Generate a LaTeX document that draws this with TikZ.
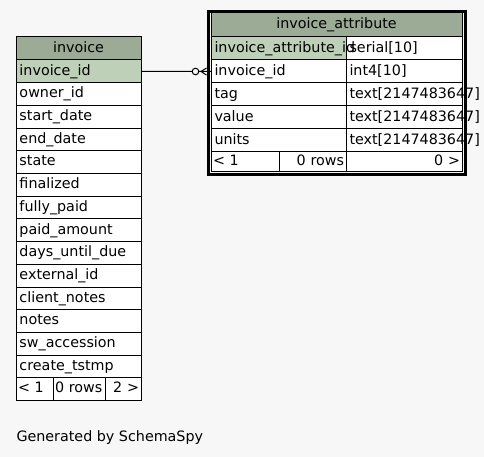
\documentclass[tikz,border=0pt]{standalone}
\usepackage{fontspec}
\setmainfont{DejaVu Sans}
\usepackage{tikz}
\usetikzlibrary{positioning}
\definecolor{headgreen}{HTML}{9BAB96}
\definecolor{keygreen}{HTML}{BED1B8}
\definecolor{canvas}{HTML}{F7F7F7}
\hyphenpenalty=10000
\exhyphenpenalty=10000

\begin{document}
\begin{tikzpicture}[x=1pt, y=-1pt, every node/.style={draw, line width=1pt, outer sep=0pt, anchor=north west, inner xsep=3.5pt, inner ysep=0pt, text height=11pt, text depth=3.5pt, align=left, font={\fontsize{14.3}{17}\selectfont}}, head/.style={fill=headgreen, align=center}, key/.style={fill=keygreen}, plain/.style={fill=white}, foot/.style={fill=white, inner xsep=2pt}, inv/.style={text width=118pt, minimum height=22.7pt}, aname/.style={text width=128pt, minimum height=23pt}, atype/.style={text width=109pt, minimum height=23pt}]
  \fill[canvas] (0,0) rectangle (484,457);

  % invoice
  \node[head, inv, minimum height=23pt] (inv-head) at (16,37) {invoice};
  \node[key, inv, below=0pt of inv-head] (inv-id) {invoice\_id};
  \node[plain, inv, below=0pt of inv-id] (inv2) {owner\_id};
  \node[plain, inv, below=0pt of inv2] (inv3) {start\_date};
  \node[plain, inv, below=0pt of inv3] (inv4) {end\_date};
  \node[plain, inv, below=0pt of inv4] (inv5) {state};
  \node[plain, inv, below=0pt of inv5] (inv6) {finalized};
  \node[plain, inv, below=0pt of inv6] (inv7) {fully\_paid};
  \node[plain, inv, below=0pt of inv7] (inv8) {paid\_amount};
  \node[plain, inv, below=0pt of inv8] (inv9) {days\_until\_due};
  \node[plain, inv, below=0pt of inv9] (inv10) {external\_id};
  \node[plain, inv, below=0pt of inv10] (inv11) {client\_notes};
  \node[plain, inv, below=0pt of inv11] (inv12) {notes};
  \node[plain, inv, below=0pt of inv12] (inv13) {sw\_accession};
  \node[plain, inv, below=0pt of inv13] (inv14) {create\_tstmp};
  \node[foot, text width=33pt, minimum height=22.7pt] (inv-f1) at (inv14.south west) {< 1};
  \node[foot, text width=48pt, minimum height=22.7pt, right=0pt of inv-f1] (inv-f2) {0 rows};
  \node[foot, text width=32pt, minimum height=22.7pt, align=right, right=0pt of inv-f2] (inv-f3) {2 >};

  % invoice_attribute
  \node[head, text width=244pt, minimum height=24pt] (attr-head) at (211,13) {invoice\_attribute};
  \node[plain, atype, anchor=north east] (attr-t1) at (attr-head.south east) {serial[10]};
  \node[plain, atype, below=0pt of attr-t1] (attr-t2) {int4[10]};
  \node[plain, atype, below=0pt of attr-t2] (attr-t3) {text[2147483647]};
  \node[plain, atype, below=0pt of attr-t3] (attr-t4) {text[2147483647]};
  \node[plain, atype, below=0pt of attr-t4] (attr-t5) {text[2147483647]};
  \node[key, aname, left=0pt of attr-t1] (attr-id) {invoice\_attribute\_id};
  \node[plain, aname, left=0pt of attr-t2] (attr-invid) {invoice\_id};
  \node[plain, aname, left=0pt of attr-t3] (attr-tag) {tag};
  \node[plain, aname, left=0pt of attr-t4] (attr-value) {value};
  \node[plain, aname, left=0pt of attr-t5] (attr-units) {units};
  \node[foot, text width=112pt, minimum height=19.5pt, align=right, below=0pt of attr-t5] (attr-f3) {0 >};
  \node[foot, text width=63pt, minimum height=19.5pt, align=right, left=0pt of attr-f3] (attr-f2) {0 rows};
  \node[foot, text width=64pt, minimum height=19.5pt, left=0pt of attr-f2] (attr-f1) {< 1};

  % relationship, zero or many
  \draw[line width=1pt] (inv-id.east) -- (attr-invid.west);
  \draw[line width=1pt, fill=canvas] ([xshift=-15.5pt]attr-invid.west) circle[radius=3.3pt];
  \draw[line width=1pt] ([xshift=-10pt]attr-invid.west) -- ([xshift=-4.5pt, yshift=3.5pt]attr-invid.west)
    ([xshift=-10pt]attr-invid.west) -- ([xshift=-4.5pt, yshift=-3.5pt]attr-invid.west);
  \draw[line width=3pt] ([shift={(-2.7pt,1pt)}]attr-head.north west) rectangle ([shift={(3pt,-3pt)}]attr-f3.south east);

  \node[draw=none, anchor=base west, inner xsep=0pt] (credit) at (16.5,441) {Generated by SchemaSpy};
\end{tikzpicture}
\end{document}
